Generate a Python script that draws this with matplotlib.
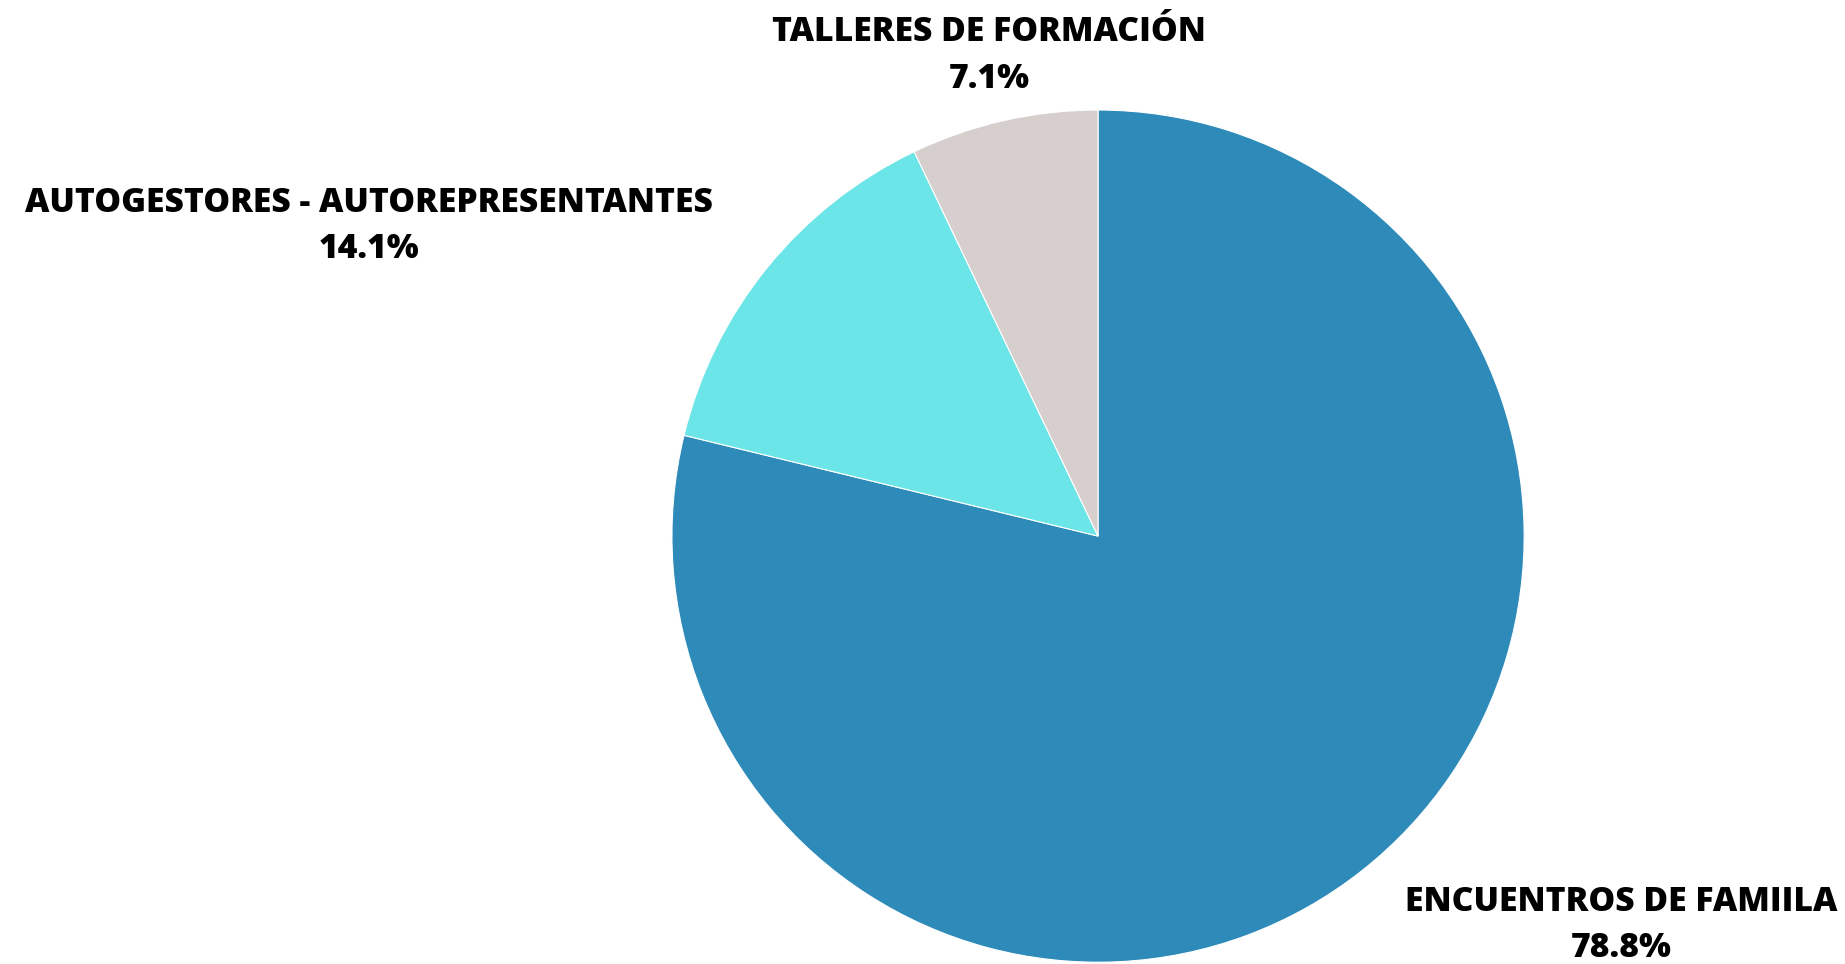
import matplotlib.pyplot as plt

labels = ["ENCUENTROS DE FAMIILA", "AUTOGESTORES - AUTOREPRESENTANTES", "TALLERES DE FORMACIÓN"]
values = [78.8, 14.1, 7.1]
colors = ["#2E8BB9", "#6BE5E7", "#D7CFCE"]
# label centres in pie units (radius = 1)
label_pos = [(1.228, -0.912), (-1.71, 0.728), (-0.256, 1.128)]

plt.rcParams['font.family'] = ['Open Sans', 'DejaVu Sans']

fig = plt.figure(figsize=(18.45, 9.64), dpi=100)
ax = fig.add_axes([0, 0, 1, 1])

ax.pie(values, colors=colors, startangle=90, counterclock=False,
       wedgeprops=dict(edgecolor="white", linewidth=0.8))

for lab, val, (x, y) in zip(labels, values, label_pos):
    ax.text(x, y, f"{lab}\n{val:.1f}%", ha="center", va="center",
            fontsize=24.2, fontweight=800, linespacing=1.47, color="black")

ax.set_xlim(-2.577, 1.753)
ax.set_ylim(-1.004, 1.258)
ax.set_aspect("equal")
ax.axis("off")

fig.savefig("out.png", dpi=100, facecolor="white")
